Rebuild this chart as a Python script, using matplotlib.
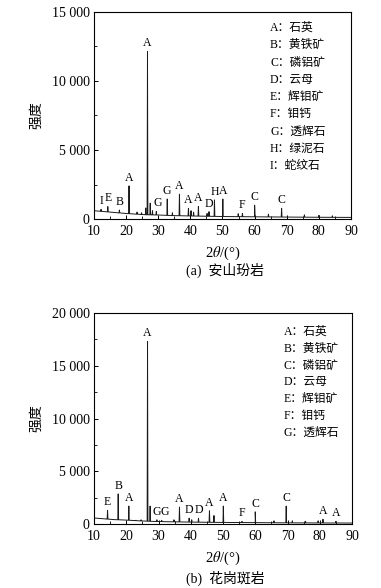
import numpy as np
import matplotlib
matplotlib.use("Agg")
import matplotlib.pyplot as plt
from matplotlib.ticker import MultipleLocator, FuncFormatter

plt.rcParams['font.family'] = ['Liberation Serif', 'Noto Sans CJK SC']
plt.rcParams['mathtext.fontset'] = 'stix'

# ---- (a) 安山玢岩 ----
base_a_x = [10, 12, 14, 16, 18, 20, 22, 24, 26, 28, 30, 32, 34, 36, 40, 45, 50, 55, 60, 70, 80, 90]
base_a_y = [600, 560, 520, 480, 440, 400, 370, 340, 310, 300, 290, 270, 250, 240, 220, 200, 180, 170, 160, 140, 125, 115]
peak_a_x = [12.2, 14.3, 17.9, 20.9, 23.4, 24.8, 26.1, 26.65, 27.5, 28.2, 29.4, 32.8, 34.4, 36.6, 39.4, 40.2, 41.0,
            42.5, 45.2, 45.8, 47.5, 50.1, 54.9, 56.2, 60.0, 64.3, 68.4, 75.5, 80.0, 84.2]
peak_a_y = [700, 900, 650, 2400, 500, 450, 800, 12150, 1150, 600, 550, 1450, 450, 1800, 770, 600, 500,
            900, 400, 530, 1380, 1450, 380, 400, 1000, 350, 770, 300, 260, 230]
label_a_x = [12.2, 14.4, 18.1, 20.9, 26.65, 29.8, 32.8, 36.6, 39.4, 42.5, 45.8, 47.5, 50.1, 56.2, 60.0, 68.4]
label_a_y = [700, 900, 650, 2400, 12150, 550, 1450, 1800, 770, 900, 530, 1380, 1450, 400, 1000, 770]
label_a_t = ['I', 'E', 'B', 'A', 'A', 'G', 'G', 'A', 'A', 'A', 'D', 'H', 'A', 'F', 'C', 'C']
legend_a = ['A：石英', 'B：黄铁矿', 'C：磷铝矿', 'D：云母', 'E：辉钼矿', 'F：钼钙', 'G：透辉石', 'H：绿泥石', 'I：蛇纹石']

# ---- (b) 花岗斑岩 ----
base_b_x = [10, 12, 14, 16, 20, 24, 28, 32, 36, 40, 50, 60, 70, 80, 90]
base_b_y = [570, 520, 470, 420, 370, 300, 250, 220, 200, 180, 150, 130, 110, 100, 90]
peak_b_x = [14.2, 17.5, 20.8, 23.0, 24.6, 26.6, 27.4, 29.5, 31.0, 34.8, 36.5, 39.5, 40.3, 42.4, 45.8, 47.2,
            50.1, 55.9, 60.0, 65.8, 69.6, 71.5, 75.6, 79.5, 81.0, 85.0]
peak_b_y = [1300, 2850, 1700, 350, 400, 17300, 1700, 400, 350, 400, 1600, 550, 400, 550, 1250, 800,
            1700, 250, 1150, 300, 1700, 300, 250, 300, 450, 250]
label_b_x = [14.2, 17.5, 20.8, 26.6, 29.4, 31.9, 36.5, 39.5, 42.4, 45.8, 50.1, 55.9, 60.0, 69.6, 81.0, 85.0]
label_b_y = [1300, 2850, 1700, 17300, 400, 400, 1600, 550, 550, 1250, 1700, 250, 1150, 1700, 450, 250]
label_b_t = ['E', 'B', 'A', 'A', 'G', 'G', 'A', 'D', 'D', 'A', 'A', 'F', 'C', 'C', 'A', 'A']
legend_b = ['A：石英', 'B：黄铁矿', 'C：磷铝矿', 'D：云母', 'E：辉钼矿', 'F：钼钙', 'G：透辉石']


def build_trace(bx, by, px, py, hw=0.12):
    # baseline points plus a narrow spike for every peak
    xs = list(bx)
    ys = list(by)
    for p, h in zip(px, py):
        b = np.interp(p, bx, by)
        xs += [p - hw, p, p + hw]
        ys += [b, h, b]
    order = np.argsort(xs, kind='stable')
    return np.array(xs)[order], np.array(ys)[order]


def thousands(v, pos):
    v = int(round(v))
    if v == 0:
        return '0'
    return f'{v // 1000} {v % 1000:03d}'


def draw_panel(ax, bx, by, px, py, lx, ly, lt, legend, ymax, leg_x, leg_y0, leg_dy):
    x, y = build_trace(bx, by, px, py)
    ax.plot(x, y, color='#1a1a1a', lw=0.7)
    for xx, yy, t in zip(lx, ly, lt):
        ax.annotate(t, (xx, yy), xytext=(0, 1.5), textcoords='offset points',
                    ha='center', va='bottom', fontsize=8.5)
    for i, s in enumerate(legend):
        ax.text(leg_x, leg_y0 - i * leg_dy, s, transform=ax.transAxes,
                ha='left', va='center', fontsize=8.5)
    ax.set_xlim(10, 90)
    ax.set_ylim(0, ymax)
    ax.xaxis.set_major_locator(MultipleLocator(10))
    ax.xaxis.set_minor_locator(MultipleLocator(5))
    ax.yaxis.set_major_locator(MultipleLocator(5000))
    ax.yaxis.set_minor_locator(MultipleLocator(2500))
    ax.yaxis.set_major_formatter(FuncFormatter(thousands))
    ax.tick_params(which='both', direction='in', labelsize=10)
    ax.tick_params(which='major', length=3, width=0.7)
    ax.tick_params(which='minor', length=2, width=0.6)
    ax.tick_params(axis='x', pad=4)
    ax.tick_params(axis='y', pad=3)
    for sp in ax.spines.values():
        sp.set_linewidth(0.8)
    ax.set_xlabel(r'2$\it{\theta}$/(°)', fontsize=10.5, labelpad=5)
    ax.set_ylabel('强度', fontsize=10, labelpad=6)


fig = plt.figure(figsize=(3.81, 5.88), dpi=100)

ax1 = fig.add_axes([94 / 381, 1 - 219 / 588, 257 / 381, 207 / 588])
draw_panel(ax1, base_a_x, base_a_y, peak_a_x, peak_a_y, label_a_x, label_a_y, label_a_t,
           legend_a, 15000, 0.685, 0.923, 0.0836)
fig.text(225 / 381, 1 - 270 / 588, '(a)  安山玢岩', ha='center', va='center', fontsize=10)

ax2 = fig.add_axes([94 / 381, 1 - 524 / 588, 258 / 381, 211 / 588])
draw_panel(ax2, base_b_x, base_b_y, peak_b_x, peak_b_y, label_b_x, label_b_y, label_b_t,
           legend_b, 20000, 0.736, 0.91, 0.0796)
fig.text(225 / 381, 1 - 578 / 588, '(b)  花岗斑岩', ha='center', va='center', fontsize=10)

fig.savefig('out.png', dpi=100)
